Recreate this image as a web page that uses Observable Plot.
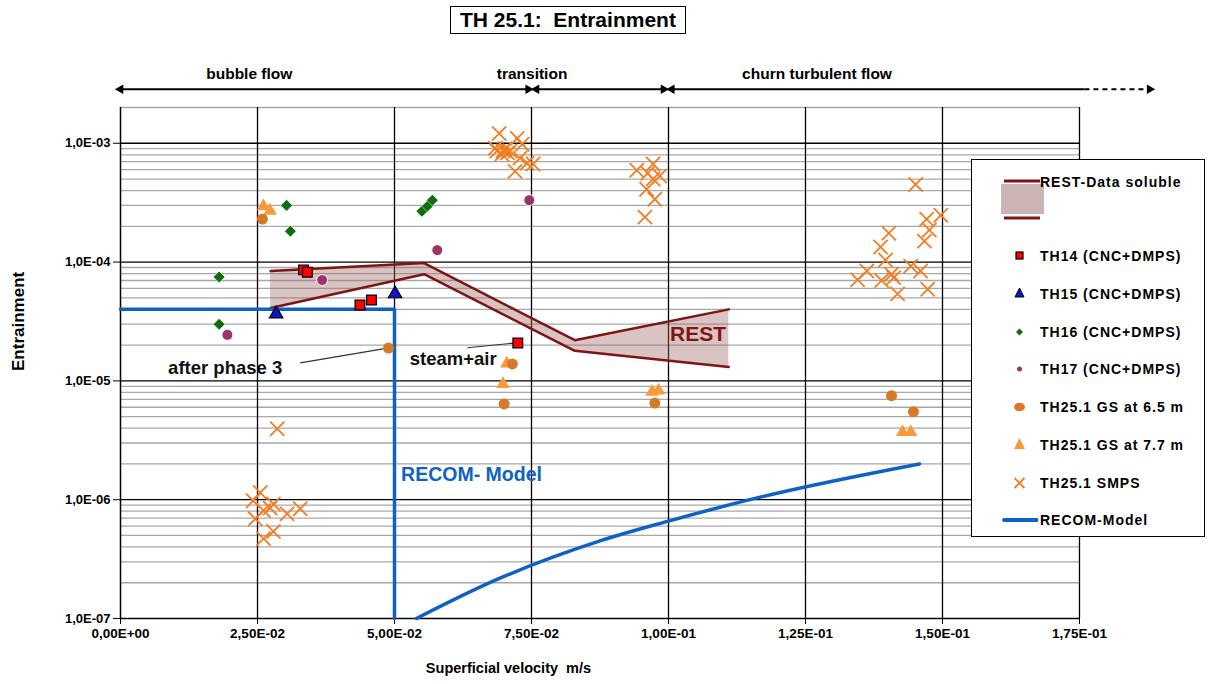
<!DOCTYPE html>
<html>
<head>
<meta charset="utf-8">
<script src="https://cdn.jsdelivr.net/npm/d3@7"></script>
<script src="https://cdn.jsdelivr.net/npm/@observablehq/plot@0.6"></script>
<style>
  body { margin: 0; background: #fff; font-family: "Liberation Sans", Arial, sans-serif; }
  #wrap { position: relative; width: 1218px; height: 684px; overflow: hidden; }
  #title { position: absolute; left: 450px; top: 6px; border: 1.5px solid #000; padding: 1px 9px; font-weight: bold; font-size: 21px; white-space: pre; background: #fff; }
  #legend { position: absolute; left: 971px; top: 159px; width: 234px; height: 378px; border: 1px solid #000; background: #fff; box-sizing: border-box; }
  .li { position: absolute; left: 0; width: 234px; height: 20px; font-weight: bold; font-size: 14px; letter-spacing: 1px; }
  .li svg { position: absolute; left: 26px; top: 0; }
  .li span { position: absolute; left: 68px; top: 2px; white-space: nowrap; }
</style>
</head>
<body>
<div id="wrap">
  <div id="chart"></div>
  <div id="title">TH 25.1:  Entrainment</div>
  <div id="legend"></div>
</div>
<script>
// ---------- axis ticks ----------
const xTicks = [0, 0.025, 0.05, 0.075, 0.1, 0.125, 0.15, 0.175];
const xTickLabels = ["0,00E+00", "2,50E-02", "5,00E-02", "7,50E-02", "1,00E-01", "1,25E-01", "1,50E-01", "1,75E-01"];
const yTicks = [1e-7, 1e-6, 1e-5, 1e-4, 1e-3];
const yTickLabels = ["1,0E-07", "1,0E-06", "1,0E-05", "1,0E-04", "1,0E-03"];
const yMinorGrid = [];
for (const d of [1e-7, 1e-6, 1e-5, 1e-4]) for (let m = 2; m <= 9; m++) yMinorGrid.push(+(m * d).toPrecision(3));
yMinorGrid.push(2e-3);

// ---------- flow regimes ----------
const regimeNames = ["bubble flow", "transition", "churn turbulent flow"];
const regimeFrom = [0, 0.0759, 0.1006];
const regimeTo = [0.0744, 0.0991, 0.1759];
const regimeLabelX = [0.0235, 0.0751, 0.1271];
const churnDashTo = 0.1878;

// ---------- REST-Data soluble band ----------
const restX = [0.0274, 0.0554, 0.0829, 0.111];
const restUpper = [8.4e-5, 9.8e-5, 2.2e-5, 4.0e-5];
const restLower = [4.1e-5, 7.9e-5, 1.79e-5, 1.31e-5];

// ---------- RECOM model ----------
const recomStepX = [0, 0.05, 0.05];
const recomStepY = [4e-5, 4e-5, 1e-7];
const recomCurveX = [0.054, 0.0684, 0.0875, 0.1, 0.1167, 0.1458];
const recomCurveY = [1e-7, 2.1e-7, 4.5e-7, 6.6e-7, 1.05e-6, 2.0e-6];

// ---------- measurements ----------
const th14X = [0.0334, 0.0341, 0.0437, 0.0458, 0.0725];
const th14Y = [8.6e-5, 8.2e-5, 4.35e-5, 4.8e-5, 2.08e-5];
const th15X = [0.0284, 0.0501];
const th15Y = [3.66e-5, 5.4e-5];
const th16X = [0.018, 0.018, 0.0303, 0.031, 0.055, 0.056, 0.0569];
const th16Y = [7.5e-5, 3.0e-5, 3.0e-4, 1.82e-4, 2.68e-4, 2.95e-4, 3.32e-4];
const th17X = [0.0195, 0.0368, 0.0578, 0.0746];
const th17Y = [2.44e-5, 7.06e-5, 1.26e-4, 3.32e-4];
const gs65X = [0.0259, 0.0489, 0.0715, 0.07, 0.0975, 0.1407, 0.1447];
const gs65Y = [2.3e-4, 1.89e-5, 1.39e-5, 6.4e-6, 6.5e-6, 7.5e-6, 5.5e-6];
const gs77X = [0.0261, 0.0273, 0.0705, 0.0698, 0.097, 0.0982, 0.1427, 0.1442];
const gs77Y = [2.95e-4, 2.7e-4, 1.4e-5, 9.4e-6, 8.1e-6, 8.3e-6, 3.7e-6, 3.7e-6];
const smpsX = [
  0.0691, 0.0724, 0.0684, 0.0698, 0.0711, 0.0733, 0.0729, 0.0742, 0.0753, 0.072, 0.0696, 0.0687, 0.0702, 0.0706,
  0.0942, 0.0972, 0.0962, 0.0984, 0.0972, 0.096, 0.0975, 0.0957,
  0.1451, 0.1471, 0.1497, 0.1476, 0.1467, 0.1402, 0.1387, 0.1396, 0.1362, 0.1345, 0.1389, 0.1407, 0.1411, 0.1418, 0.1442, 0.146, 0.1473,
  0.0255, 0.0242, 0.0279, 0.0261, 0.0273, 0.0304, 0.0328, 0.0246, 0.0279, 0.0261, 0.0286
];
const smpsY = [
  1.21e-3, 1.1e-3, 9.1e-4, 8.6e-4, 8.6e-4, 9.8e-4, 7.5e-4, 6.8e-4, 6.7e-4, 5.8e-4, 8.1e-4, 8.6e-4, 9.0e-4, 8.3e-4,
  5.93e-4, 6.7e-4, 5.6e-4, 5.3e-4, 5.0e-4, 4.1e-4, 3.38e-4, 2.39e-4,
  4.5e-4, 2.3e-4, 2.48e-4, 1.86e-4, 1.5e-4, 1.75e-4, 1.34e-4, 1.04e-4, 8.4e-5, 7.1e-5, 7.0e-5, 7.9e-5, 7.4e-5, 5.4e-5, 9.25e-5, 8.4e-5, 5.9e-5,
  1.15e-6, 9.8e-7, 9.2e-7, 8.1e-7, 8.5e-7, 7.6e-7, 8.4e-7, 6.9e-7, 5.4e-7, 4.7e-7, 3.95e-6
];

// ---------- annotations ----------
const notes = [
  {text: "after phase 3", x: 0.0191, y: 1.28e-5, x1: 0.0328, y1: 1.42e-5, x2: 0.0479, y2: 1.86e-5},
  {text: "steam+air", x: 0.0607, y: 1.53e-5, x1: 0.0633, y1: 1.9e-5, x2: 0.0718, y2: 2.08e-5}
];

const pts = (xs, ys) => xs.map((x, i) => ({x, y: ys[i]}));
const regimes = regimeNames.map((name, i) => ({name, from: regimeFrom[i], to: regimeTo[i], lx: regimeLabelX[i]}));
const arrowY = 2.85e-3, labelY = 3.8e-3;
const restRows = restX.map((x, i) => ({x, lo: restLower[i], hi: restUpper[i]}));

const chart = Plot.plot({
  width: 1218,
  height: 684,
  marginTop: 107,
  marginBottom: 66,
  marginLeft: 120,
  marginRight: 139,
  x: {domain: [0, 0.175]},
  y: {type: "log", domain: [1e-7, 2e-3]},
  style: {fontFamily: "'Liberation Sans', Arial, sans-serif", fontSize: "13px", fontWeight: "bold", color: "#000", background: "#fff", overflow: "visible"},
  marks: [
    Plot.ruleY(yMinorGrid, {stroke: "#a8a8a8", strokeWidth: 1.3}),
    Plot.ruleY(yTicks.slice(1), {stroke: "#000", strokeWidth: 1.3}),
    Plot.ruleX(xTicks.slice(1), {stroke: "#000", strokeWidth: 1.3}),
    Plot.axisX({ticks: xTicks, tickFormat: (d) => xTickLabels[xTicks.indexOf(d)], tickSize: 6, tickPadding: 4, label: null, fontWeight: "bold", fontSize: 13.5}),
    Plot.axisY({ticks: yTicks, tickFormat: (d) => yTickLabels[yTicks.indexOf(d)], tickSize: 7, tickPadding: 3, label: null, fontWeight: "bold", fontSize: 13}),
    Plot.ruleX([0], {stroke: "#000", strokeWidth: 1.5}),
    Plot.ruleY([1e-7], {stroke: "#000", strokeWidth: 1.5}),
    // REST band
    Plot.areaY(restRows, {x: "x", y1: "lo", y2: "hi", fill: "#a06a6a", fillOpacity: 0.4}),
    Plot.line(restRows, {x: "x", y: "hi", stroke: "#7f1414", strokeWidth: 2.5}),
    Plot.line(restRows, {x: "x", y: "lo", stroke: "#7f1414", strokeWidth: 2.5}),
    // RECOM model
    Plot.line(pts(recomStepX, recomStepY), {x: "x", y: "y", stroke: "#0f62c4", strokeWidth: 3.5}),
    Plot.line(pts(recomCurveX, recomCurveY), {x: "x", y: "y", stroke: "#0f62c4", strokeWidth: 3.5, curve: "monotone-x"}),
    // annotations
    Plot.link(notes, {x1: "x1", y1: "y1", x2: "x2", y2: "y2", stroke: "#333", strokeWidth: 1.2}),
    Plot.text(notes, {x: "x", y: "y", text: "text", fontSize: 18.5, fontWeight: "bold", fill: "#111"}),
    Plot.text(["REST"], {x: 0.1054, y: 2.48e-5, text: (d) => d, fontSize: 21, fontWeight: "bold", fill: "#7f1414"}),
    Plot.text(["RECOM- Model"], {x: 0.0512, y: 1.62e-6, text: (d) => d, textAnchor: "start", fontSize: 19.5, fontWeight: "bold", fill: "#0f62c4"}),
    // measurements
    Plot.dot(pts(smpsX, smpsY), {x: "x", y: "y", symbol: "times", r: 6.5, stroke: "#f47c20", strokeWidth: 1.8}),
    Plot.dot(pts(th16X, th16Y), {x: "x", y: "y", symbol: "diamond2", r: 5.2, fill: "#0b6e0b", stroke: "#fff", strokeWidth: 0.5}),
    Plot.dot(pts(th17X, th17Y), {x: "x", y: "y", symbol: "circle", r: 5.5, fill: "#9c3468", stroke: "#fff", strokeWidth: 1}),
    Plot.dot(pts(gs77X, gs77Y), {x: "x", y: "y", symbol: "triangle", r: 5, fill: "#f79a3a"}),
    Plot.dot(pts(gs65X, gs65Y), {x: "x", y: "y", symbol: "circle", r: 5.5, fill: "#d67a2a"}),
    Plot.dot(pts(th14X, th14Y), {x: "x", y: "y", symbol: "square", r: 5.5, fill: "#f00", stroke: "#000", strokeWidth: 1.2}),
    Plot.dot(pts(th15X, th15Y), {x: "x", y: "y", symbol: "triangle", r: 5, fill: "#0a16c8", stroke: "#000", strokeWidth: 1.2}),
    // flow regime arrows
    Plot.link(regimes, {x1: "from", x2: "to", y1: () => arrowY, y2: () => arrowY, stroke: "#000", strokeWidth: 2}),
    Plot.link([churnDashTo], {x1: () => regimeTo[2], x2: (d) => d, y1: () => arrowY, y2: () => arrowY, stroke: "#000", strokeWidth: 2, strokeDasharray: "5,4"}),
    Plot.dot(regimes, {x: "from", y: () => arrowY, symbol: "triangle", r: 3.6, fill: "#000", rotate: -90}),
    Plot.dot([...regimeTo.slice(0, 2), churnDashTo], {x: (d) => d, y: () => arrowY, symbol: "triangle", r: 3.6, fill: "#000", rotate: 90}),
    Plot.text(regimes, {x: "lx", y: () => labelY, text: "name", fontSize: 15.5, fontWeight: "bold"}),
    // axis titles
    Plot.text(["Superficial velocity  m/s"], {x: () => 0.0708, frameAnchor: "bottom", dy: 54, text: (d) => d, fontSize: 14.5, fontWeight: "bold"}),
    Plot.text(["Entrainment"], {frameAnchor: "left", dx: -102, dy: 8, rotate: -90, text: (d) => d, fontSize: 17, fontWeight: "bold"})
  ]
});
document.getElementById("chart").append(chart);

// ---------- legend ----------
const legendItems = [
  {label: "REST-Data soluble", top: 12, icon: `<svg width="50" height="50"><line x1="6" y1="9" x2="42" y2="9" stroke="#7f1414" stroke-width="3"/><rect x="3" y="12" width="43" height="30" fill="#cdb4b4"/><line x1="6" y1="46" x2="42" y2="46" stroke="#7f1414" stroke-width="3"/></svg>`},
  {label: "TH14 (CNC+DMPS)", top: 86, icon: `<svg width="40" height="20"><rect x="18" y="6" width="7" height="7" fill="#f00" stroke="#000" stroke-width="1.2"/></svg>`},
  {label: "TH15 (CNC+DMPS)", top: 124, icon: `<svg width="40" height="20"><path d="M21.5,4 L26,13 L17,13 Z" fill="#0a16c8" stroke="#000" stroke-width="1"/></svg>`},
  {label: "TH16 (CNC+DMPS)", top: 162, icon: `<svg width="40" height="20"><path d="M21.5,6.5 L25,10 L21.5,13.5 L18,10 Z" fill="#0b6e0b"/></svg>`},
  {label: "TH17 (CNC+DMPS)", top: 199, icon: `<svg width="40" height="20"><circle cx="21.5" cy="10" r="2.5" fill="#9c3468"/></svg>`},
  {label: "TH25.1 GS at 6.5 m", top: 237, icon: `<svg width="40" height="20"><ellipse cx="21.5" cy="10" rx="5.5" ry="4.3" fill="#d67a2a"/></svg>`},
  {label: "TH25.1 GS at 7.7 m", top: 275, icon: `<svg width="40" height="20"><path d="M21.5,3 L27,14 L16,14 Z" fill="#f79a3a"/></svg>`},
  {label: "TH25.1 SMPS", top: 313, icon: `<svg width="40" height="20"><path d="M16.5,5 L26.5,15 M26.5,5 L16.5,15" stroke="#f47c20" stroke-width="1.8"/></svg>`},
  {label: "RECOM-Model", top: 350, icon: `<svg width="40" height="20"><line x1="6" y1="10" x2="42" y2="10" stroke="#0f62c4" stroke-width="4" stroke-linecap="round"/></svg>`}
];
const legend = document.getElementById("legend");
for (const it of legendItems) {
  const div = document.createElement("div");
  div.className = "li";
  div.style.top = it.top + "px";
  div.innerHTML = it.icon + `<span>${it.label}</span>`;
  legend.append(div);
}
</script>
</body>
</html>
